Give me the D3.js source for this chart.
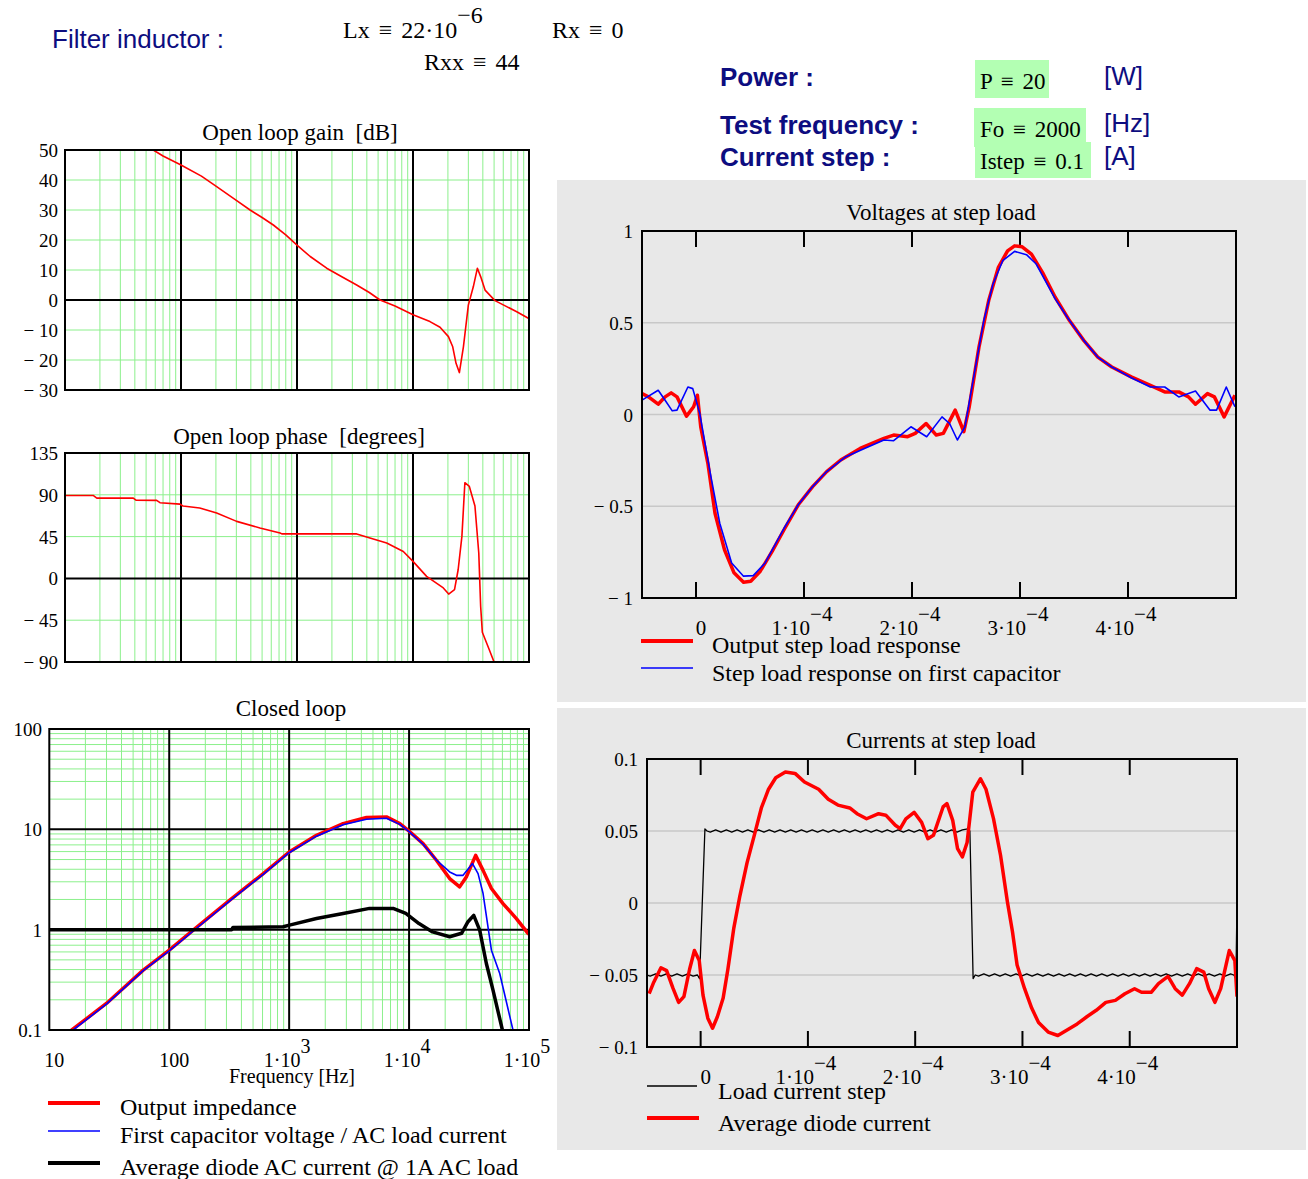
<!DOCTYPE html>
<html>
<head>
<meta charset="utf-8">
<script src="https://cdn.jsdelivr.net/npm/d3@7"></script>
<style>
body { margin: 0; background: #fff; }
text { font-family: "Liberation Serif", "Times New Roman", serif; fill: #000; white-space: pre; }
.sans { font-family: "Liberation Sans", Arial, sans-serif; fill: #0d0d80; }
.eq { word-spacing: 3px; }
</style>
</head>
<body>
<svg id="chart" width="1308" height="1179"></svg>
<script>
// ---- data ----
// open loop gain [Hz, dB]
const gainData = [[57.7,50],[70,48],[100,45],[150,41.3],[203,37.8],[300,33.2],[394,30],[500,27.5],[625,25],[800,21.7],
  [1000,18.3],[1300,14.5],[1803,10.6],[2500,7.5],[3269,5],[4200,2.5],[5200,0],[7000,-2],[10000,-4.9],[14000,-7.2],
  [17100,-9.1],[20200,-12.2],[22000,-15.6],[23500,-21.1],[25100,-24.2],[27200,-15.6],[30000,-1.7],[33100,4.4],
  [35900,10.6],[38300,7.8],[41800,3.3],[50900,-0.2],[64200,-2.2],[78400,-3.9],[98700,-6.1],[100000,-6.2]];
// open loop phase [Hz, deg]
const phaseData = [[10,89.3],[17.5,89.3],[18.8,86.4],[38.8,86.4],[40.9,84.2],[61.7,84],[65.9,81.5],[98,80],[104,78],
  [145,75.8],[203,70.4],[302,61.4],[479,54.3],[715,48.9],[740,47.9],[3270,47.9],[4255,43.5],[5930,38.1],[8250,29],
  [10000,18.3],[13100,2.2],[18250,-10.3],[20300,-16.9],[22800,-12],[24500,9.3],[26400,45.2],[28000,103],[30600,99],
  [34200,77.9],[36900,27.3],[38300,-30],[39600,-58],[45200,-76],[49100,-87.5],[50000,-90]];
// closed loop [Hz, magnitude]
const outImpedance = [[13,0.08],[15.4,0.1],[30.1,0.185],[60.7,0.395],[100,0.625],[158.5,0.99],[320,1.97],[608,3.62],
  [1000,5.94],[1690,8.71],[2818,11.4],[4413,13.1],[6475,13.3],[8370,11.4],[10000,9.6],[13090,7.2],[16900,4.92],
  [21800,3.23],[26400,2.67],[30000,3.35],[35900,5.5],[41400,3.9],[48600,2.57],[60700,1.82],[78500,1.29],[98000,0.92],
  [100000,0.9]];
const firstCap = [[13.5,0.08],[15.8,0.1],[30.1,0.182],[60.7,0.39],[100,0.615],[158.5,0.97],[320,1.94],[608,3.56],
  [1000,5.85],[1690,8.55],[2818,11.1],[4413,12.6],[6475,12.9],[8370,11.2],[10000,9.5],[13090,7.1],[16900,4.95],
  [21800,3.76],[24800,3.48],[28200,3.48],[33800,4.56],[37600,3.62],[41400,2.29],[48600,0.625],[57000,0.366],[73500,0.1],
  [78000,0.08]];
const diodeCurrent = [[10,1.0],[331,1.0],[340,1.05],[891,1.07],[1006,1.11],[1690,1.29],[2818,1.45],[4680,1.63],[7360,1.63],
  [9390,1.45],[12100,1.15],[15700,0.95],[21800,0.85],[27400,0.92],[31000,1.2],[34600,1.39],[38800,0.99],[44100,0.46],
  [50100,0.25],[60000,0.1],[62000,0.08]];
// voltages at step load [µs, V]
const outStep = [[-50,0.114],[-44,0.096],[-35,0.056],[-28.6,0.096],[-23,0.118],[-17.6,0.096],[-8.8,-0.009],[-2.2,0.042],
  [1.3,0.105],[4.4,-0.067],[11,-0.266],[17.6,-0.538],[26.4,-0.737],[35.2,-0.863],[44,-0.914],[50.7,-0.909],[59.5,-0.854],
  [70.5,-0.746],[81.5,-0.628],[94.7,-0.492],[108,-0.393],[121,-0.311],[134,-0.248],[152,-0.185],[174,-0.13],[183,-0.112],
  [196,-0.121],[203,-0.103],[213,-0.049],[222.5,-0.112],[229,-0.103],[240,0.024],[248,-0.094],[253,0.042],[262,0.367],
  [271,0.621],[280,0.802],[288.5,0.892],[295,0.919],[302,0.914],[310.6,0.874],[321.6,0.766],[332.6,0.639],[345.8,0.512],
  [359,0.404],[372,0.313],[385,0.259],[403,0.205],[420.7,0.159],[434,0.123],[447,0.123],[456,0.096],[462.5,0.056],
  [473.6,0.114],[480,0.096],[489,-0.013],[499,0.105]];
const capStep = [[-50,0.078],[-35,0.132],[-28.6,0.078],[-22,0.02],[-17.6,0.024],[-7.5,0.15],[-3,0.141],[3.5,0.005],
  [13.2,-0.32],[22,-0.592],[33,-0.809],[44,-0.881],[53,-0.878],[64,-0.809],[81.5,-0.62],[94.7,-0.492],[108,-0.393],
  [121,-0.311],[138.8,-0.23],[156,-0.185],[174,-0.139],[183,-0.143],[199,-0.067],[213.6,-0.121],[227.8,-0.013],
  [234.8,-0.049],[242,-0.139],[249,-0.067],[257.7,0.223],[266.5,0.512],[275,0.711],[284,0.838],[295,0.889],[306,0.871],
  [315,0.82],[332.6,0.63],[345.8,0.512],[359,0.404],[372,0.313],[385,0.259],[403,0.2],[420.7,0.15],[434,0.15],[447,0.096],
  [462.5,0.128],[475.8,0.024],[482,0.024],[491,0.15],[499,0.042]];
// currents at step load [µs, A]
const loadStep = [[-50,-0.05],[-47,-0.0508],[-42,-0.0492],[-37,-0.0508],[-32,-0.0492],[-27,-0.0508],[-22,-0.0492],
  [-17,-0.0508],[-12,-0.0492],[-7,-0.0508],[-3,-0.05],[-1,-0.0525],[4,0.0515],[6,0.05],
  [9,0.0492],[14,0.0508],[19,0.0492],[24,0.0508],[29,0.0492],[34,0.0508],[39,0.0492],[44,0.0508],[49,0.0492],[54,0.0508],
  [59,0.0492],[64,0.0508],[69,0.0492],[74,0.0508],[79,0.0492],[84,0.0508],[89,0.0492],[94,0.0508],[99,0.0492],[104,0.0508],
  [109,0.0492],[114,0.0508],[119,0.0492],[124,0.0508],[129,0.0492],[134,0.0508],[139,0.0492],[144,0.0508],[149,0.0492],
  [154,0.0508],[159,0.0492],[164,0.0508],[169,0.0492],[174,0.0508],[179,0.0492],[184,0.0508],[189,0.0492],[194,0.0508],
  [199,0.0492],[204,0.0508],[209,0.0492],[214,0.0508],[219,0.0492],[224,0.0508],[229,0.0492],[234,0.0508],[239,0.0492],
  [244,0.0508],[249,0.0515],[251,0.05],[254,-0.0525],[256,-0.05],
  [259,-0.0508],[264,-0.0492],[269,-0.0508],[274,-0.0492],[279,-0.0508],[284,-0.0492],[289,-0.0508],[294,-0.0492],
  [299,-0.0508],[304,-0.0492],[309,-0.0508],[314,-0.0492],[319,-0.0508],[324,-0.0492],[329,-0.0508],[334,-0.0492],
  [339,-0.0508],[344,-0.0492],[349,-0.0508],[354,-0.0492],[359,-0.0508],[364,-0.0492],[369,-0.0508],[374,-0.0492],
  [379,-0.0508],[384,-0.0492],[389,-0.0508],[394,-0.0492],[399,-0.0508],[404,-0.0492],[409,-0.0508],[414,-0.0492],
  [419,-0.0508],[424,-0.0492],[429,-0.0508],[434,-0.0492],[439,-0.0508],[444,-0.0492],[449,-0.0508],[454,-0.0492],
  [459,-0.0508],[464,-0.0492],[469,-0.0508],[474,-0.0492],[479,-0.0508],[484,-0.0492],[489,-0.0508],[494,-0.0492],
  [497,-0.05],[499,-0.0525],[500,0.0]];
const diodeStep = [[-48,-0.063],[-43.7,-0.055],[-37,-0.045],[-31.7,-0.047],[-25.9,-0.059],[-20.5,-0.069],[-15.6,-0.065],
  [-10.3,-0.046],[-5.8,-0.033],[-1.3,-0.04],[2.2,-0.064],[6.7,-0.08],[11.1,-0.087],[15.6,-0.079],[21,-0.066],[25.4,-0.046],
  [30.8,-0.018],[36.6,0.005],[43.3,0.028],[50,0.047],[56.6,0.066],[63.3,0.079],[70,0.087],[79,0.091],[88,0.09],[96.8,0.084],
  [110,0.079],[119,0.072],[128,0.068],[139,0.066],[145.8,0.062],[154.7,0.0585],[165.9,0.062],[172.6,0.061],[181.5,0.054],
  [186,0.0516],[191.3,0.0585],[199,0.063],[206,0.056],[211.8,0.0447],[217,0.047],[226,0.0667],[229.6,0.069],[235,0.0574],
  [239.5,0.0377],[244,0.032],[248.4,0.042],[253.7,0.077],[260.9,0.0863],[266,0.079],[273,0.0586],[279.6,0.033],[286,0.0007],
  [290.7,-0.02],[295,-0.043],[302,-0.0595],[308.6,-0.073],[315,-0.083],[324,-0.0896],[333,-0.092],[342,-0.088],[351,-0.084],
  [360,-0.079],[368.8,-0.0745],[377.7,-0.069],[386.6,-0.0676],[395.5,-0.063],[404.5,-0.0595],[411,-0.062],[420,-0.062],
  [426.8,-0.056],[435.7,-0.051],[442.4,-0.0595],[449,-0.064],[455.7,-0.056],[462.4,-0.0456],[469,-0.048],[473.6,-0.0595],
  [479.4,-0.069],[484.8,-0.0595],[492.8,-0.033],[498,-0.04],[500,-0.065]];

// tick labels
const gainTicks = [50, 40, 30, 20, 10, 0, -10, -20, -30];
const phaseTicks = [135, 90, 45, 0, -45, -90];
const closedTicks = [100, 10, 1, 0.1];
const freqLabels = [[10, "10", ""], [100, "100", ""], [1e3, "1·10", "3"], [1e4, "1·10", "4"], [1e5, "1·10", "5"]];
const timeLabels = [[0, "0", ""], [100, "1·10", "−4"], [200, "2·10", "−4"], [300, "3·10", "−4"], [400, "4·10", "−4"]];
const voltTicks = [1, 0.5, 0, -0.5, -1];
const currTicks = [0.1, 0.05, 0, -0.05, -0.1];

const svg = d3.select("#chart");
svg.append("rect").attr("width", 1308).attr("height", 1179).attr("fill", "#fff");

const GREEN = "#8cf08c";
const fmtNeg = v => v < 0 ? "− " + Math.abs(v) : String(v);

// ---- header ----
svg.append("text").attr("class", "sans").attr("x", 52).attr("y", 48).style("font-size", "26px").text("Filter inductor :");
const lx = svg.append("text").attr("class", "eq").attr("x", 343).attr("y", 38).style("font-size", "24px");
lx.append("tspan").text("Lx ≡ 22·10");
lx.append("tspan").attr("dy", -15).text("−6");
svg.append("text").attr("class", "eq").attr("x", 552).attr("y", 38).style("font-size", "24px").text("Rx ≡ 0");
svg.append("text").attr("class", "eq").attr("x", 424).attr("y", 70).style("font-size", "24px").text("Rxx ≡ 44");

const params = [
  {label: "Power :", box: [975, 60, 74, 38], val: "P ≡ 20", vy: 89, unit: "[W]", ly: 86, uy: 85},
  {label: "Test frequency :", box: [974, 108, 112, 39], val: "Fo ≡ 2000", vy: 137, unit: "[Hz]", ly: 134, uy: 132},
  {label: "Current step :", box: [975, 142, 116, 36], val: "Istep ≡ 0.1", vy: 169, unit: "[A]", ly: 166, uy: 165}
];
params.forEach(p => {
  svg.append("rect").attr("x", p.box[0]).attr("y", p.box[1]).attr("width", p.box[2]).attr("height", p.box[3]).attr("fill", "#b3ffb3");
});
params.forEach(p => {
  svg.append("text").attr("class", "sans").attr("x", 720).attr("y", p.ly).style("font-size", "26px").style("font-weight", "bold").text(p.label);
  svg.append("text").attr("class", "eq").attr("x", 980).attr("y", p.vy).style("font-size", "23px").text(p.val);
  svg.append("text").attr("class", "sans").attr("x", 1104).attr("y", p.uy).style("font-size", "26px").text(p.unit);
});

// ---- left: bode plots ----
const minorFreqs = [];
[10, 100, 1000, 10000].forEach(d => { for (let m = 2; m <= 9; m++) minorFreqs.push(d * m); });

function bodeFrame(id, x, y, hGreen, hBlack, vBlack) {
  const [x0, x1] = x.range(), [y1, y0] = y.range();
  const g = svg.append("g");
  g.append("clipPath").attr("id", id).append("rect").attr("x", x0).attr("y", y0).attr("width", x1 - x0).attr("height", y1 - y0);
  g.selectAll(".vm").data(minorFreqs).enter().append("line")
    .attr("x1", d => x(d)).attr("x2", d => x(d)).attr("y1", y0).attr("y2", y1)
    .attr("stroke", GREEN).attr("stroke-width", 1);
  g.selectAll(".hm").data(hGreen).enter().append("line")
    .attr("x1", x0).attr("x2", x1).attr("y1", d => y(d)).attr("y2", d => y(d))
    .attr("stroke", GREEN).attr("stroke-width", 1);
  g.selectAll(".vb").data(vBlack).enter().append("line")
    .attr("x1", d => x(d)).attr("x2", d => x(d)).attr("y1", y0).attr("y2", y1)
    .attr("stroke", "#000").attr("stroke-width", 2);
  g.selectAll(".hb").data(hBlack).enter().append("line")
    .attr("x1", x0).attr("x2", x1).attr("y1", d => y(d)).attr("y2", d => y(d))
    .attr("stroke", "#000").attr("stroke-width", 2);
  return g;
}
function boxBorder(x, y) {
  const [x0, x1] = x.range(), [y1, y0] = y.range();
  svg.append("rect").attr("x", x0).attr("y", y0).attr("width", x1 - x0).attr("height", y1 - y0)
    .attr("fill", "none").attr("stroke", "#000").attr("stroke-width", 2);
}
function curve(id, data, x, y, color, w) {
  svg.append("path").datum(data).attr("clip-path", `url(#${id})`)
    .attr("d", d3.line().x(d => x(d[0])).y(d => y(d[1])))
    .attr("fill", "none").attr("stroke", color).attr("stroke-width", w).attr("stroke-linejoin", "round");
}

// gain
const fx = d3.scaleLog().domain([10, 1e5]).range([65, 529]);
const gy = d3.scaleLinear().domain([-30, 50]).range([390, 150]);
bodeFrame("clipGain", fx, gy, [40, 30, 20, 10, -10, -20], [0], [100, 1000, 10000]);
curve("clipGain", gainData, fx, gy, "#f00", 1.6);
boxBorder(fx, gy);
svg.append("text").attr("x", 300).attr("y", 140).attr("text-anchor", "middle").style("font-size", "23px").text("Open loop gain  [dB]");
svg.selectAll(".gt").data(gainTicks).enter().append("text")
  .attr("x", 58).attr("y", d => gy(d) + 7).attr("text-anchor", "end").style("font-size", "19px").text(fmtNeg);

// phase
const py = d3.scaleLinear().domain([-90, 135]).range([662, 453]);
bodeFrame("clipPhase", fx, py, [90, 45, -45], [0], [100, 1000, 10000]);
curve("clipPhase", phaseData, fx, py, "#f00", 1.6);
boxBorder(fx, py);
svg.append("text").attr("x", 299).attr("y", 444).attr("text-anchor", "middle").style("font-size", "23px").text("Open loop phase  [degrees]");
svg.selectAll(".pt").data(phaseTicks).enter().append("text")
  .attr("x", 58).attr("y", d => py(d) + 7).attr("text-anchor", "end").style("font-size", "19px").text(fmtNeg);

// closed loop
const cx = d3.scaleLog().domain([10, 1e5]).range([49.3, 529]);
const cy = d3.scaleLog().domain([0.1, 100]).range([1030, 729]);
const minorMags = [];
[0.1, 1, 10].forEach(d => { for (let m = 2; m <= 9; m++) minorMags.push(d * m); });
bodeFrame("clipClosed", cx, cy, minorMags, [10, 1], [100, 1000, 10000]);
curve("clipClosed", outImpedance, cx, cy, "#f00", 3.5);
curve("clipClosed", firstCap, cx, cy, "#00f", 1.6);
curve("clipClosed", diodeCurrent, cx, cy, "#000", 3.5);
boxBorder(cx, cy);
svg.append("text").attr("x", 291).attr("y", 716).attr("text-anchor", "middle").style("font-size", "23px").text("Closed loop");
svg.selectAll(".ct").data(closedTicks).enter().append("text")
  .attr("x", 42).attr("y", d => cy(d) + 7).attr("text-anchor", "end").style("font-size", "19px").text(d => String(d));
freqLabels.forEach(([f, base, exp]) => {
  const t = svg.append("text").attr("x", cx(f) + (exp ? -2 : 5)).attr("y", 1067).attr("text-anchor", "middle").style("font-size", "20px");
  t.append("tspan").text(base);
  if (exp) t.append("tspan").attr("dy", -14).text(exp);
});
svg.append("text").attr("x", 292).attr("y", 1083).attr("text-anchor", "middle").style("font-size", "20px").text("Frequency [Hz]");

// closed loop legend
const closedLegend = [
  {c: "#f00", w: 4, ly: 1103, ty: 1115, t: "Output impedance"},
  {c: "#00f", w: 1.6, ly: 1131, ty: 1143, t: "First capacitor voltage / AC load current"},
  {c: "#000", w: 4, ly: 1163, ty: 1175, t: "Average diode AC current @ 1A AC load"}
];
closedLegend.forEach(l => {
  svg.append("line").attr("x1", 48).attr("x2", 100).attr("y1", l.ly).attr("y2", l.ly).attr("stroke", l.c).attr("stroke-width", l.w);
  svg.append("text").attr("x", 120).attr("y", l.ty).style("font-size", "24px").text(l.t);
});

// ---- right: time plots ----
svg.append("rect").attr("x", 557).attr("y", 180).attr("width", 749).attr("height", 522).attr("fill", "#e8e8e8");
svg.append("rect").attr("x", 557).attr("y", 708).attr("width", 749).attr("height", 442).attr("fill", "#e8e8e8");

function timePlot(id, x, y, grid, yTicks, labelX, title, titleY) {
  const [x0, x1] = x.range(), [y1, y0] = y.range();
  svg.append("clipPath").attr("id", id).append("rect").attr("x", x0).attr("y", y0).attr("width", x1 - x0).attr("height", y1 - y0);
  svg.selectAll(null).data(grid).enter().append("line")
    .attr("x1", x0).attr("x2", x1).attr("y1", d => y(d)).attr("y2", d => y(d))
    .attr("stroke", "#c8c8c8").attr("stroke-width", 1.5);
  timeLabels.forEach(([t]) => {
    svg.append("line").attr("x1", x(t)).attr("x2", x(t)).attr("y1", y0).attr("y2", y0 + 16).attr("stroke", "#000").attr("stroke-width", 2);
    svg.append("line").attr("x1", x(t)).attr("x2", x(t)).attr("y1", y1).attr("y2", y1 - 16).attr("stroke", "#000").attr("stroke-width", 2);
  });
  svg.append("text").attr("x", 941).attr("y", titleY).attr("text-anchor", "middle").style("font-size", "23px").text(title);
  svg.selectAll(null).data(yTicks).enter().append("text")
    .attr("x", labelX).attr("y", d => y(d) + 7).attr("text-anchor", "end").style("font-size", "19px").text(fmtNeg);
  timeLabels.forEach(([t, base, exp]) => {
    const tx = svg.append("text").attr("x", x(t) + (exp ? -2 : 5)).attr("y", y1 + 37).attr("text-anchor", "middle").style("font-size", "21px");
    tx.append("tspan").text(base);
    if (exp) tx.append("tspan").attr("dy", -14).text(exp);
  });
}

// voltages
const vx = d3.scaleLinear().domain([-50, 500]).range([642, 1236]);
const vy = d3.scaleLinear().domain([-1, 1]).range([598, 231]);
timePlot("clipVolt", vx, vy, [0.5, 0, -0.5], voltTicks, 633, "Voltages at step load", 220);
curve("clipVolt", outStep, vx, vy, "#f00", 3.5);
curve("clipVolt", capStep, vx, vy, "#00f", 1.6);
boxBorder(vx, vy);
svg.append("line").attr("x1", 641).attr("x2", 693).attr("y1", 641).attr("y2", 641).attr("stroke", "#f00").attr("stroke-width", 4);
svg.append("text").attr("x", 712).attr("y", 653).style("font-size", "24px").text("Output step load response");
svg.append("line").attr("x1", 641).attr("x2", 693).attr("y1", 668).attr("y2", 668).attr("stroke", "#00f").attr("stroke-width", 1.6);
svg.append("text").attr("x", 712).attr("y", 681).style("font-size", "24px").text("Step load response on first capacitor");

// currents
const ix = d3.scaleLinear().domain([-50, 500]).range([647, 1237]);
const iy = d3.scaleLinear().domain([-0.1, 0.1]).range([1047, 759]);
timePlot("clipCurr", ix, iy, [0.05, 0, -0.05], currTicks, 638, "Currents at step load", 748);
curve("clipCurr", loadStep, ix, iy, "#000", 1.3);
curve("clipCurr", diodeStep, ix, iy, "#f00", 3.5);
boxBorder(ix, iy);
svg.append("line").attr("x1", 647).attr("x2", 697).attr("y1", 1086).attr("y2", 1086).attr("stroke", "#000").attr("stroke-width", 1.3);
svg.append("text").attr("x", 718).attr("y", 1099).style("font-size", "24px").text("Load current step");
svg.append("line").attr("x1", 647).attr("x2", 699).attr("y1", 1118).attr("y2", 1118).attr("stroke", "#f00").attr("stroke-width", 4);
svg.append("text").attr("x", 718).attr("y", 1131).style("font-size", "24px").text("Average diode current");
</script>
</body>
</html>
